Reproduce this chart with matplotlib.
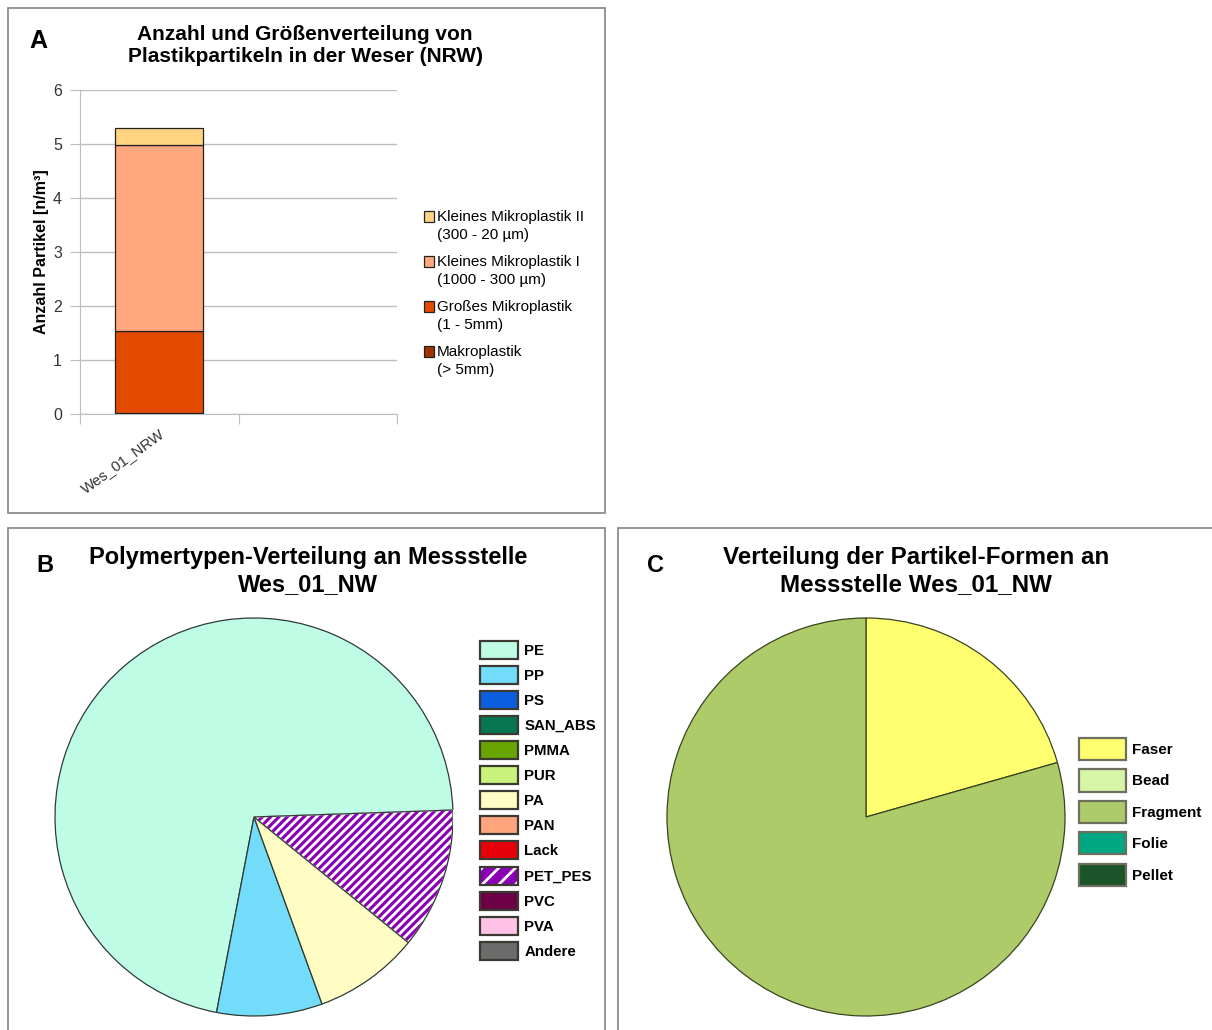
import matplotlib.pyplot as plt
from matplotlib.patches import Patch, Rectangle, Wedge
from matplotlib.container import BarContainer
from matplotlib.legend_handler import HandlerTuple, HandlerPatch, update_from_first_child

plt.rcParams['font.family'] = ['Liberation Sans', 'DejaVu Sans']
plt.rcParams['hatch.linewidth'] = 2.0

# A: Anzahl Partikel [n/m³] je Größenklasse
stellen = ["Wes_01_NRW", ""]
groessen = ["Makroplastik\n(> 5mm)", "Großes Mikroplastik\n(1 - 5mm)",
            "Kleines Mikroplastik I\n(1000 - 300 µm)", "Kleines Mikroplastik II\n(300 - 20 µm)"]
anzahl = [0.02, 1.51, 3.45, 0.31]
farben_a = ["#A33300", "#E34C00", "#FFA880", "#FFD481"]

# B: Polymertypen (Anzahl Partikel)
polymere = ["PE", "PP", "PS", "SAN_ABS", "PMMA", "PUR", "PA", "PAN", "Lack",
            "PET_PES", "PVC", "PVA", "Andere"]
poly_n = [25, 3, 0, 0, 0, 0, 3, 0, 0, 4, 0, 0, 0]
farben_b = ["#BFFCE6", "#73DCFA", "#0B5FDF", "#087651", "#68A500", "#C9F27C",
            "#FFFCC4", "#FFA57D", "#E6000B", "#8A00B5", "#6C0046", "#FFC2E6", "#6B6B6B"]

# C: Partikel-Formen
formen = ["Faser", "Bead", "Fragment", "Folie", "Pellet"]
form_n = [7, 0, 27, 0, 0]
farben_c = ["#FFFF70", "#D6F5A6", "#ADCB69", "#00A783", "#1B5429"]

W, H = 1212, 1030
fig = plt.figure(figsize=(W / 100, H / 100), dpi=100)


def box(x0, y0, x1, y1):
    fig.add_artist(Rectangle((x0 / W, 1 - y1 / H), (x1 - x0) / W, (y1 - y0) / H,
                             transform=fig.transFigure, fill=False,
                             edgecolor="#8C8C8C", linewidth=1.3))


box(8, 8, 605, 513)
box(8, 528, 605, 1032)
box(618, 528, 1214, 1032)


# Quadrat in der Legende auf Höhe der ersten Textzeile
def quadrat_oben(legend, orig_handle, xdescent, ydescent, width, height, fontsize):
    return Rectangle((-xdescent, -ydescent + 0.62 * fontsize), width, height)


# ---------- A ----------
ax = fig.add_axes([80 / W, 1 - 414 / H, 317 / W, 324 / H])
unten = 0
for wert, name, f in zip(anzahl, groessen, farben_a):
    ax.bar(0.5, wert, width=0.555, bottom=unten, color=f, edgecolor="#222222",
           linewidth=0.9, label=name, zorder=3)
    unten += wert
ax.set_xlim(0, len(stellen))
ax.set_ylim(0, 6)
ax.set_yticks(range(7))
ax.yaxis.grid(True, color="#BDBDBD", linewidth=1.0, zorder=0)
ax.set_xticks([0, 1, 2])
ax.set_xticklabels([])
ax.set_xticks([0.5, 1.5], minor=True)
ax.set_xticklabels(stellen, minor=True, rotation=36, ha="right",
                   rotation_mode="anchor", fontsize=10.8, color="#333333")
ax.tick_params(axis="x", which="minor", length=0, pad=9)
ax.tick_params(axis="x", which="major", length=7, color="#BDBDBD", direction="out")
ax.tick_params(axis="y", length=7, color="#BDBDBD", labelsize=11.5,
               labelcolor="#333333", pad=6)
for s in ["top", "right"]:
    ax.spines[s].set_visible(False)
ax.spines["left"].set_color("#BDBDBD")
ax.spines["bottom"].set_color("#BDBDBD")
ax.set_ylabel("Anzahl Partikel [n/m³]", fontsize=11.5, fontweight="bold", labelpad=3)
fig.text(305 / W, 1 - 45 / H,
         "Anzahl und Größenverteilung von\nPlastikpartikeln in der Weser (NRW)",
         ha="center", va="center", fontsize=15, fontweight="bold", linespacing=1.2)
fig.text(38 / W, 1 - 41 / H, "A", ha="center", va="center", fontsize=18, fontweight="bold")
h, l = ax.get_legend_handles_labels()
leg_a = fig.legend(h[::-1], l[::-1], loc="upper left", bbox_to_anchor=(424 / W, 1 - 210 / H),
                   frameon=False, fontsize=11, handlelength=0.65, handleheight=0.65,
                   handletextpad=0.2, labelspacing=0.86, borderpad=0, borderaxespad=0,
                   handler_map={BarContainer: HandlerPatch(patch_func=quadrat_oben,
                                                           update_func=update_from_first_child)})
for t in leg_a.get_texts():
    t.set_linespacing(1.35)

# ---------- B ----------
axb = fig.add_axes([(254 - 199) / W, (H - 817 - 199) / H, 398 / W, 398 / H])
nz = [i for i, v in enumerate(poly_n) if v > 0]
wedges, _ = axb.pie([poly_n[i] for i in nz], colors=[farben_b[i] for i in nz],
                    startangle=2, counterclock=True,
                    wedgeprops=dict(edgecolor="#2F3A35", linewidth=0.9))
for w, i in zip(wedges, nz):
    if polymere[i] == "PET_PES":
        w.set_edgecolor("white")
        w.set_hatch("////")
        axb.add_patch(Wedge(w.center, w.r, w.theta1, w.theta2, fill=False,
                            edgecolor="#2F3A35", linewidth=0.9))
axb.set_xlim(-1, 1)
axb.set_ylim(-1, 1)

handles_b = []
for name, f in zip(polymere, farben_b):
    if name == "PET_PES":
        handles_b.append((Patch(facecolor=f, edgecolor="white", hatch="//", linewidth=0),
                          Patch(fill=False, edgecolor="#3A3A32", linewidth=1.6)))
    else:
        handles_b.append(Patch(facecolor=f, edgecolor="#3A3A32", linewidth=1.6))
fig.legend(handles_b, polymere, loc="upper left", bbox_to_anchor=(480 / W, 1 - 641 / H),
           frameon=False, handler_map={tuple: HandlerTuple(ndivide=1, pad=0)},
           prop=dict(weight="bold", size=10.8), handlelength=2.5, handleheight=1.47,
           handletextpad=0.45, labelspacing=0.47, borderpad=0, borderaxespad=0)
fig.text(308 / W, 1 - 571 / H, "Polymertypen-Verteilung an Messstelle\nWes_01_NW",
         ha="center", va="center", fontsize=17, fontweight="bold", linespacing=1.2)
fig.text(45 / W, 1 - 566 / H, "B", ha="center", va="center", fontsize=17, fontweight="bold")

# ---------- C ----------
axc = fig.add_axes([(866 - 199) / W, (H - 817 - 199) / H, 398 / W, 398 / H])
nzc = [i for i, v in enumerate(form_n) if v > 0]
axc.pie([form_n[i] for i in nzc], colors=[farben_c[i] for i in nzc],
        startangle=90, counterclock=False,
        wedgeprops=dict(edgecolor="#3A4420", linewidth=0.9))
axc.set_xlim(-1, 1)
axc.set_ylim(-1, 1)
handles_c = [Patch(facecolor=f, edgecolor="#6E6E5E", linewidth=1.6) for f in farben_c]
fig.legend(handles_c, formen, loc="upper left", bbox_to_anchor=(1079 / W, 1 - 738 / H),
           frameon=False, prop=dict(weight="bold", size=11), handlelength=3.1,
           handleheight=1.84, handletextpad=0.4, labelspacing=0.62, borderpad=0,
           borderaxespad=0)
fig.text(916 / W, 1 - 571 / H, "Verteilung der Partikel-Formen an\nMessstelle Wes_01_NW",
         ha="center", va="center", fontsize=17.4, fontweight="bold", linespacing=1.2)
fig.text(655 / W, 1 - 566 / H, "C", ha="center", va="center", fontsize=17, fontweight="bold")

fig.savefig("out.png", dpi=100)
